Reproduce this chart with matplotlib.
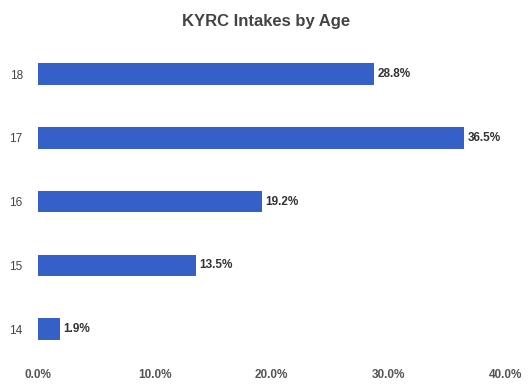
import matplotlib
matplotlib.use('Agg')
import matplotlib.pyplot as plt

# Data
ages = ['14', '15', '16', '17', '18']
shares = [1.9, 13.5, 19.2, 36.5, 28.8]
xticks = [0, 10, 20, 30, 40]

plt.rcParams['font.family'] = ['Liberation Sans', 'DejaVu Sans']

fig = plt.figure(figsize=(5.32, 3.87), dpi=100)
ax = fig.add_axes([0.0714, 0.067, 0.878, 0.824])

pos = range(len(ages))
ax.barh(pos, shares, height=0.34, color='#3560c8')
for p, v in zip(pos, shares):
    ax.text(v + 0.3, p, f'{v:.1f}%', va='center', ha='left',
            fontsize=8.5, fontweight='bold', color='#333333')

ax.set_yticks(list(pos))
ax.set_yticklabels(ages, fontsize=8.5, color='#444444')
ax.set_xticks(xticks)
ax.set_xticklabels([f'{t:.1f}%' for t in xticks], fontsize=8.5,
                   fontweight='bold', color='#555555')
ax.set_xlim(0, 40)
ax.set_ylim(-0.5, 4.5)
ax.tick_params(length=0)
ax.tick_params(axis='y', pad=11)
ax.tick_params(axis='x', pad=6)
for s in ax.spines.values():
    s.set_visible(False)

fig.suptitle('KYRC Intakes by Age', y=0.965, fontsize=12,
             fontweight='bold', color='#444444')

fig.savefig('out.png', dpi=100)
